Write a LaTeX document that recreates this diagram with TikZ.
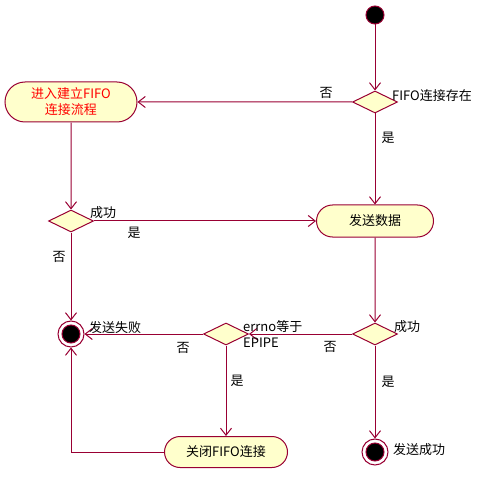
\documentclass[tikz,border=0pt]{standalone}
\usepackage{fontspec}
\setmainfont{Noto Sans CJK SC}
\usetikzlibrary{shapes.geometric,shapes.misc,arrows.meta}
\definecolor{edgec}{HTML}{990033}
\definecolor{fillc}{HTML}{FFFFCC}
\tikzset{
  act/.style={rounded rectangle, draw=edgec, fill=fillc, line width=1pt, inner sep=0pt, font=\fontsize{13}{16}\selectfont},
  dec/.style={diamond, draw=edgec, fill=fillc, line width=1pt, inner sep=0pt, minimum width=45, minimum height=22},
  startc/.style={circle, draw=edgec, fill=black, line width=1pt, minimum size=18, inner sep=0pt},
  endc/.style={circle, draw=edgec, fill=white, line width=1pt, minimum size=26, inner sep=0pt},
  flow/.style={draw=edgec, line width=1pt, -{Straight Barb[length=7,width=11]}},
  lbl/.style={font=\fontsize{13}{15}\selectfont, inner sep=0pt}
}
\begin{document}
\begin{tikzpicture}[x=1pt,y=-1pt]
\useasboundingbox (0,0) rectangle (485,484);
\node[startc] (start) at (375,15) {};
\node[dec] (d1) at (375,102) {};
\node[act, minimum width=132, minimum height=40, text=red, align=center] (a1) at (71,102) {进入建立FIFO\\连接流程};
\node[dec] (d2) at (71,221) {};
\node[act, minimum width=117, minimum height=32] (a2) at (375,221) {发送数据};
\node[dec] (d3) at (375,334) {};
\node[dec] (d4) at (226,334) {};
\node[endc] (fail) at (71,334) {};
\fill[black, draw=edgec, line width=1pt] (fail) circle (9);
\node[act, minimum width=123, minimum height=31] (a3) at (226,452) {关闭FIFO连接};
\node[endc] (succ) at (375,452) {};
\fill[black, draw=edgec, line width=1pt] (succ) circle (9);

\draw[flow] (start) -- (d1);
\draw[flow] (d1) -- (a1);
\draw[flow] (d1) -- (a2);
\draw[flow] (a1) -- (d2);
\draw[flow] (d2) -- (a2);
\draw[flow] (d2) -- (fail);
\draw[flow] (a2) -- (d3);
\draw[flow] (d3) -- (d4);
\draw[flow] (d4) -- (fail);
\draw[flow] (d4) -- (a3);
\draw[flow] (a3.west) -| (fail.south);
\draw[flow] (d3) -- (succ);

\node[lbl] (l1) at (326,93) {否};
\node[lbl] (l2) at (388,138) {是};
\node[lbl, anchor=west] (l3) at (392,96) {FIFO连接存在};
\node[lbl, anchor=west] (l4) at (90,213) {成功};
\node[lbl] (l5) at (134,233) {是};
\node[lbl] (l6) at (59,257) {否};
\node[lbl, anchor=west] (l7) at (394,327) {成功};
\node[lbl] (l8) at (330,347) {否};
\node[lbl, anchor=west] (l9) at (243,327) {errno等于};
\node[lbl, anchor=west] (l10) at (243,343) {EPIPE};
\node[lbl] (l11) at (183,348) {否};
\node[lbl, anchor=west] (l12) at (89,328) {发送失败};
\node[lbl] (l13) at (237,381) {是};
\node[lbl] (l14) at (388,382) {是};
\node[lbl, anchor=west] (l15) at (393,450) {发送成功};
\end{tikzpicture}
\end{document}
